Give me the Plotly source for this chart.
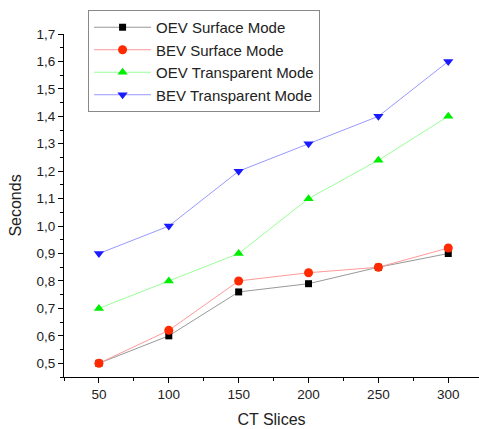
import plotly.graph_objects as go

ct_slices = [50, 100, 150, 200, 250, 300]
oev_surface = [0.5, 0.6, 0.76, 0.79, 0.85, 0.9]
bev_surface = [0.5, 0.62, 0.8, 0.83, 0.85, 0.92]
oev_transparent = [0.7, 0.8, 0.9, 1.1, 1.24, 1.4]
bev_transparent = [0.9, 1.0, 1.2, 1.3, 1.4, 1.6]

series = [
    ("OEV Surface Mode", oev_surface, "#000000", "#999999", "square"),
    ("BEV Surface Mode", bev_surface, "#ff2a00", "#ff9999", "circle"),
    ("OEV Transparent Mode", oev_transparent, "#00ee00", "#99ff99", "triangle-up"),
    ("BEV Transparent Mode", bev_transparent, "#1a1aff", "#9999ff", "triangle-down"),
]

fig = go.Figure()
for name, vals, mc, lc, sym in series:
    fig.add_trace(go.Scatter(
        x=ct_slices, y=vals, name=name, mode="lines+markers",
        line=dict(color=lc, width=1),
        marker=dict(color=mc, symbol=sym, size=9 if sym != "square" else 7),
    ))

tickvals_y = [0.5, 0.6, 0.7, 0.8, 0.9, 1.0, 1.1, 1.2, 1.3, 1.4, 1.5, 1.6, 1.7]
ticktext_y = [f"{v:.1f}".replace(".", ",") for v in tickvals_y]

fig.update_layout(
    width=479, height=429,
    margin=dict(l=64, r=0, t=34, b=52),
    paper_bgcolor="white", plot_bgcolor="white",
    font=dict(family="Liberation Sans, Arial, sans-serif", size=12, color="#222"),
    showlegend=True,
    legend=dict(
        x=0.058, y=1.07, xanchor="left", yanchor="top",
        bordercolor="#888", borderwidth=1, bgcolor="white",
        font=dict(size=15), tracegroupgap=0, itemwidth=57,
    ),
    xaxis=dict(
        range=[25, 322], tickvals=ct_slices, showgrid=False, zeroline=False,
        showline=True, linecolor="#000", linewidth=1,
        ticks="outside", ticklen=5, tickcolor="#000",
        minor=dict(dtick=25, ticks="outside", ticklen=3, tickcolor="#000"),
        title=dict(text="CT Slices", font=dict(size=16), standoff=12),
        tickfont=dict(size=13.5),
    ),
    yaxis=dict(
        range=[0.45, 1.7], tickvals=tickvals_y, ticktext=ticktext_y,
        showgrid=False, zeroline=False,
        showline=True, linecolor="#000", linewidth=1,
        ticks="outside", ticklen=5, tickcolor="#000",
        minor=dict(dtick=0.05, tick0=0.45, ticks="outside", ticklen=3, tickcolor="#000"),
        title=dict(text="Seconds", font=dict(size=16), standoff=10),
        tickfont=dict(size=13.5),
    ),
)

fig.write_html("out.html")
